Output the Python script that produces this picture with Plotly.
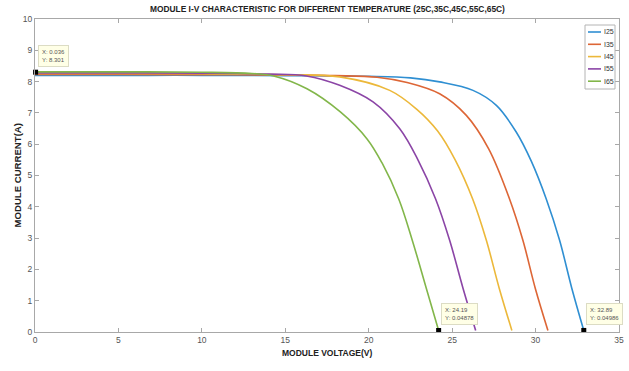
import plotly.graph_objects as go

# ---- data ----
names = ["I25", "I35", "I45", "I55", "I65"]
colors = ["#2f8fd2", "#dd6636", "#ecb83a", "#8b45a6", "#82b64a"]

V25 = [0, 5, 10, 15, 20, 22.5, 24.25, 26.25, 27.65, 28.84, 29.75, 30.64, 31.44, 32.17, 32.89]
I25 = [8.20, 8.20, 8.20, 8.19, 8.17, 8.12, 7.99, 7.72, 7.24, 6.39, 5.45, 4.25, 2.93, 1.40, 0.05]

V35 = [0, 5, 10, 15, 18, 20.5, 22.3, 24.25, 25.85, 27.19, 28.44, 29.24, 29.98, 30.74]
I35 = [8.23, 8.23, 8.22, 8.21, 8.19, 8.14, 7.97, 7.61, 6.92, 5.85, 4.25, 2.93, 1.40, 0.05]

V45 = [0, 5, 10, 15, 18.26, 21.26, 22.85, 24.13, 25.18, 26.23, 27.05, 27.82, 28.58]
I45 = [8.26, 8.26, 8.25, 8.22, 8.15, 7.72, 7.13, 6.42, 5.50, 4.25, 2.93, 1.40, 0.05]

V55 = [0, 5, 10, 14, 16.27, 18.26, 20.26, 21.86, 22.95, 24.01, 24.85, 25.65, 26.41]
I55 = [8.28, 8.28, 8.27, 8.24, 8.18, 7.88, 7.35, 6.49, 5.50, 4.25, 2.93, 1.40, 0.05]

V65 = [0, 5, 10, 13, 14.3, 16.3, 18.3, 19.9, 20.8, 21.8, 22.6, 23.45, 24.19]
I65 = [8.31, 8.31, 8.30, 8.26, 8.18, 7.77, 7.03, 6.17, 5.40, 4.25, 2.95, 1.40, 0.05]

tip_x = [0.036, 24.19, 32.89]
tip_y = [8.301, 0.04878, 0.04986]
tip_labels = ["X: 0.036<br>Y: 8.301", "X: 24.19<br>Y: 0.04878", "X: 32.89<br>Y: 0.04986"]

x_ticks = [0, 5, 10, 15, 20, 25, 30, 35]
y_ticks = [0, 1, 2, 3, 4, 5, 6, 7, 8, 9, 10]

title_text = "MODULE I-V CHARACTERISTIC FOR DIFFERENT TEMPERATURE (25C,35C,45C,55C,65C)"
x_title = "MODULE VOLTAGE(V)"
y_title = "MODULE CURRENT(A)"

series_V = [V25, V35, V45, V55, V65]
series_I = [I25, I35, I45, I55, I65]

W, H = 629, 371
ML, MR, MT, MB = 35, 10, 19, 39
PW, PH = W - ML - MR, H - MT - MB


def px2paper_x(px):
    return (px - ML) / PW


def px2paper_y(py):
    return (H - MB - py) / PH


fig = go.Figure()
for n, c, v, i in zip(names, colors, series_V, series_I):
    fig.add_trace(go.Scatter(
        x=v, y=i, mode="lines", name=n, showlegend=False,
        line=dict(color=c, width=1.6, shape="spline", smoothing=1.0),
    ))

fig.add_trace(go.Scatter(
    x=tip_x, y=tip_y, mode="markers", showlegend=False,
    marker=dict(symbol="square", size=5, color="black"),
    cliponaxis=False,
))

for tx, ty, tl in zip(tip_x, tip_y, tip_labels):
    fig.add_annotation(
        x=tx, y=ty, xref="x", yref="y", text=tl, showarrow=False,
        xanchor="left", yanchor="bottom", xshift=2, yshift=5, align="left",
        font=dict(family="Liberation Sans, Arial", size=6, color="#555"),
        bgcolor="#ffffe6", bordercolor="#dcdcc4", borderwidth=1, borderpad=3,
    )

# ---- custom compact legend (MATLAB style) ----
leg_left, leg_right, leg_top, leg_bottom = 585, 615, 25, 89
fig.add_shape(
    type="rect", xref="paper", yref="paper",
    x0=px2paper_x(leg_left), x1=px2paper_x(leg_right),
    y0=px2paper_y(leg_bottom), y1=px2paper_y(leg_top),
    line=dict(color="#b4b4b4", width=1), fillcolor="white", layer="above",
)
for k, (n, c) in enumerate(zip(names, colors)):
    ey = leg_top + 7 + k * 12.3
    fig.add_shape(
        type="line", xref="paper", yref="paper",
        x0=px2paper_x(588), x1=px2paper_x(601),
        y0=px2paper_y(ey), y1=px2paper_y(ey),
        line=dict(color=c, width=1.6), layer="above",
    )
    fig.add_annotation(
        x=px2paper_x(602), y=px2paper_y(ey), xref="paper", yref="paper",
        text=n, showarrow=False, xanchor="left", yanchor="middle",
        font=dict(family="Liberation Sans, Arial", size=7, color="#333"),
    )

axis_common = dict(
    showline=True, linecolor="#a8a8a8", linewidth=1, mirror="allticks",
    ticks="inside", ticklen=4, tickcolor="#a8a8a8",
    showgrid=False, zeroline=False, automargin=False,
    tickfont=dict(family="Liberation Sans, Arial", size=8.5, color="#555"),
)

fig.update_xaxes(range=[0, 35], tickvals=x_ticks, **axis_common)
fig.update_yaxes(range=[0, 10], tickvals=y_ticks, **axis_common)

fig.add_annotation(
    x=0.5, y=1, xref="paper", yref="paper", text="<b>" + title_text + "</b>",
    showarrow=False, yanchor="bottom", yshift=3,
    font=dict(family="Liberation Sans, Arial", size=8.4, color="#222"),
)
fig.add_annotation(
    x=0.5, y=0, xref="paper", yref="paper", text="<b>" + x_title + "</b>",
    showarrow=False, yanchor="middle", yshift=-21,
    font=dict(family="Liberation Sans, Arial", size=8.5, color="#222"),
)
fig.add_annotation(
    x=0, y=0.5, xref="paper", yref="paper", text="<b>" + y_title + "</b>",
    showarrow=False, xanchor="center", xshift=-18, textangle=-90,
    font=dict(family="Liberation Sans, Arial", size=9.6, color="#222"),
)

fig.update_layout(
    width=W, height=H,
    margin=dict(l=ML, r=MR, t=MT, b=MB),
    paper_bgcolor="white", plot_bgcolor="white",
    showlegend=False,
)

fig.write_html(
    "out.html",
    config={"displayModeBar": False},
    post_script="document.body.style.margin='0';document.body.style.overflow='hidden';",
)
